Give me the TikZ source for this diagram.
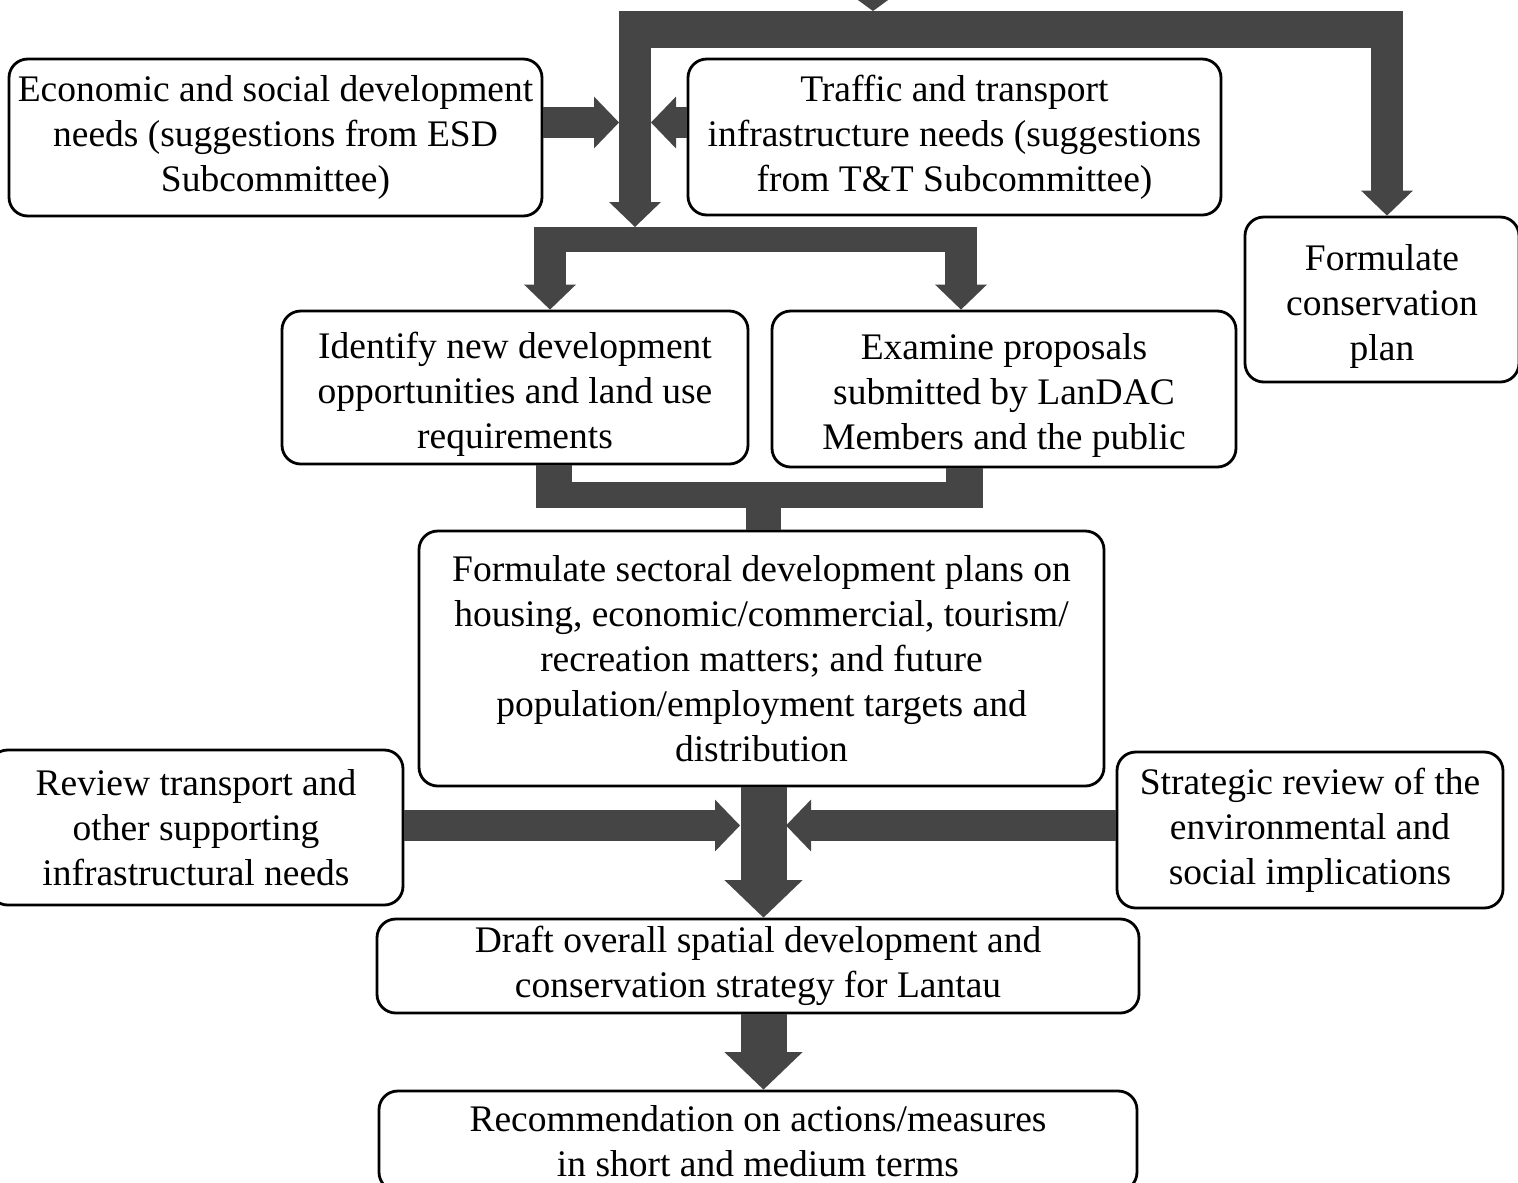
\documentclass[tikz,border=0pt]{standalone}
\usepackage{fontspec}
\setmainfont{Liberation Serif}
\usepackage{xcolor}
\usetikzlibrary{arrows.meta}

\definecolor{pipegray}{HTML}{454545}
\newcommand{\lowerstrut}{\rule{0pt}{12.6pt}}

\tikzset{
    box/.style={draw, line width=0.9pt, rounded corners=6pt, align=center,
        inner sep=0pt, font=\fontsize{12}{14.4}\selectfont},
    dims/.style 2 args={minimum width=#1*0.32pt, minimum height=#2*0.32pt},
    pipe/.style={draw=pipegray, line width=#1*0.32pt},
    tipS/.style={-{Triangle[width=16.6pt,length=8pt,line width=0pt]}},
    tipT/.style={-{Triangle[width=19.2pt,length=7pt,line width=0pt]}},
    tipL/.style={-{Triangle[width=25pt,length=12pt,line width=0pt]}},
}

\begin{document}
\begin{tikzpicture}[x=0.32pt, y=-0.32pt]
    \useasboundingbox (0,0) rectangle (1518,1182);
    \clip (0,0) rectangle (1518,1182);

    % Boxes
    \node[box, dims={533}{157}] (esd) at (275.5,137.5)
        {Economic and social development\\ needs (suggestions from ESD\\ Subcommittee)};
    \node[box, dims={533}{156}] (tt) at (954.5,137)
        {Traffic and transport\\ infrastructure needs (suggestions\\ from T\&T Subcommittee)};
    \node[box, dims={274}{165}] (cons) at (1382,299.5)
        {\lowerstrut Formulate\\ conservation\\ plan};
    \node[box, dims={466}{153}] (ident) at (515,387.5)
        {\lowerstrut Identify new development\\ opportunities and land use\\ requirements};
    \node[box, dims={464}{156}] (exam) at (1004,389)
        {\lowerstrut Examine proposals\\ submitted by LanDAC\\ Members and the public};
    \node[box, dims={685}{255}] (sect) at (761.5,658.5)
        {Formulate sectoral development plans on\\ housing, economic/commercial, tourism/\\
         recreation matters; and future\\ population/employment targets and\\ distribution};
    \node[box, dims={414}{155}] (review) at (196,827.5)
        {Review transport and\\ other supporting\\ infrastructural needs};
    \node[box, dims={386}{156}] (strat) at (1310,830)
        {Strategic review of the\\ environmental and\\ social implications};
    \node[box, dims={762}{94}] (draft) at (758,966)
        {Draft overall spatial development and\\ conservation strategy for Lantau};
    \node[box, dims={758}{100}] (rec) at (758,1141)
        {Recommendation on actions/measures\\ in short and medium terms};

    % Junction points (imaginary)
    \coordinate (feed) at (873,11);
    \coordinate (dropL) at (635,11);
    \coordinate (dropR) at (1387,11);
    \coordinate (splitTop) at (635,227);
    \coordinate (inL) at (619,122.5);
    \coordinate (inR) at (651,122.5);
    \coordinate (dropA) at (550,252);
    \coordinate (dropB) at (961,252);
    \coordinate (mergeA) at (554,508);
    \coordinate (mergeB) at (964.5,508);
    \coordinate (mergeC) at (763.5,495);
    \coordinate (hitL) at (740,825.5);
    \coordinate (hitR) at (786,825.5);

    % Top bar
    \draw[pipe=32, tipT] (873,-60) -- (feed);
    \draw[pipe=37] (619,29.5) -- (1403,29.5);
    \draw[pipe=32, tipS] (dropL) -- (splitTop);
    \draw[pipe=32, tipS] (dropR) -- (dropR |- cons.north);

    % Side inputs
    \draw[pipe=31, tipS] (esd.east |- inL) -- (inL);
    \draw[pipe=31, tipS] (tt.west |- inR) -- (inR);

    % Split bar
    \draw[pipe=25] (534,239.5) -- (977,239.5);
    \draw[pipe=32, tipS] (dropA) -- (dropA |- ident.north);
    \draw[pipe=32, tipS] (dropB) -- (dropB |- exam.north);

    % Merge bar
    \draw[pipe=36] (ident.south -| mergeA) -- (mergeA);
    \draw[pipe=37] (exam.south -| mergeB) -- (mergeB);
    \draw[pipe=26] (536,495) -- (983,495);
    \draw[pipe=35] (mergeC) -- (mergeC |- sect.north);

    % Into the draft strategy
    \draw[pipe=31, tipS] (review.east |- hitL) -- (hitL);
    \draw[pipe=31, tipS] (strat.west |- hitR) -- (hitR);
    \draw[pipe=46, tipL] (sect.south -| mergeC) -- (mergeC |- draft.north);
    \draw[pipe=46, tipL] (draft.south -| mergeC) -- (mergeC |- rec.north);
\end{tikzpicture}
\end{document}
